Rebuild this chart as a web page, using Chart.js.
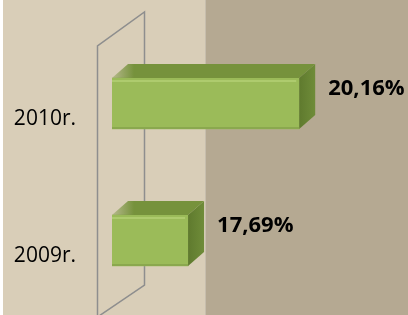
<!DOCTYPE html>
<html>
<head>
<meta charset="utf-8">
<script src="https://cdn.jsdelivr.net/npm/chart.js@4/dist/chart.umd.min.js"></script>
<style>
html,body{margin:0;padding:0;background:#fff;}
#wrap{width:408px;height:315px;}
</style>
</head>
<body>
<div id="wrap"><canvas id="c" width="408" height="315"></canvas></div>
<script>
const categories = ['2010r.', '2009r.'];
const values = [20.16, 17.69];
const axisMin = 16;
const axisMax = 22;
const splitValue = 18;

function fmt(v){ return v.toFixed(2).replace('.', ',') + '%'; }

const DX = 16, DY = -14;

const deco = {
  id: 'deco',
  beforeDraw(chart){
    const ctx = chart.ctx, ca = chart.chartArea;
    const xs = chart.scales.x;
    ctx.save();
    ctx.fillStyle = '#ffffff';
    ctx.fillRect(0,0,chart.width,chart.height);
    ctx.fillStyle = '#D9CEB8';
    ctx.fillRect(3,0,chart.width-3,chart.height);
    const sx = Math.round(xs.getPixelForValue(splitValue)) + 3;
    ctx.fillStyle = '#B5A992';
    ctx.fillRect(sx,0,chart.width-sx,chart.height);
    ctx.fillStyle = 'rgba(255,255,255,0.25)';
    ctx.fillRect(sx,0,1,chart.height);
    // wall
    const lx = ca.left - 14.5, rx = ca.left + 32.5;
    ctx.strokeStyle = '#8E8E8E';
    ctx.lineWidth = 1.5;
    ctx.beginPath();
    ctx.moveTo(lx, chart.height + 2);
    ctx.lineTo(lx, ca.top + 11);
    ctx.lineTo(rx, ca.top - 23);
    ctx.lineTo(rx, ca.bottom - 24);
    ctx.lineTo(lx, ca.bottom + 8);
    ctx.stroke();
    ctx.restore();
  },
  afterDatasetsDraw(chart){
    const ctx = chart.ctx;
    const ca = chart.chartArea;
    const meta = chart.getDatasetMeta(0);
    const ys = chart.scales.y;
    ctx.save();
    meta.data.forEach((bar, i) => {
      const p = bar.getProps(['x','y','base','height'], true);
      const top = p.y - p.height/2, bot = p.y + p.height/2;
      const x0 = Math.max(p.base, ca.left), x1 = p.x;
      // top face
      const gt = ctx.createLinearGradient(x0, 0, x0 + 22, 0);
      gt.addColorStop(0, 'rgba(118,146,60,0.35)');
      gt.addColorStop(1, 'rgba(118,146,60,1)');
      ctx.fillStyle = gt;
      ctx.beginPath();
      ctx.moveTo(x0, top);
      ctx.lineTo(x1, top);
      ctx.lineTo(x1 + DX, top + DY);
      ctx.lineTo(x0 + DX, top + DY);
      ctx.closePath();
      ctx.fill();
      // side face
      const g = ctx.createLinearGradient(x1, 0, x1 + DX, 0);
      g.addColorStop(0, '#5F7A2E');
      g.addColorStop(1, '#6F8C39');
      ctx.fillStyle = g;
      ctx.beginPath();
      ctx.moveTo(x1, top);
      ctx.lineTo(x1 + DX, top + DY);
      ctx.lineTo(x1 + DX, bot + DY);
      ctx.lineTo(x1, bot);
      ctx.closePath();
      ctx.fill();
      // highlight on front
      ctx.fillStyle = '#AECB6E';
      ctx.fillRect(x0, top + 2, x1 - x0 - 3, 2);
      ctx.fillStyle = '#8AA84E';
      ctx.fillRect(x0, bot - 2, x1 - x0, 2);
      // value label
      ctx.fillStyle = '#000';
      ctx.font = 'bold 22px "Open Sans"';
      ctx.textAlign = 'left';
      ctx.textBaseline = 'alphabetic';
      ctx.fillText(fmt(values[i]), x1 + 29, p.y - 9);
      // category label
      ctx.font = '21px "Open Sans"';
      ctx.textAlign = 'right';
      ctx.fillText(categories[i], 76, ys.getPixelForValue(i) + 21);
    });
    ctx.restore();
  }
};

new Chart(document.getElementById('c'), {
  type: 'bar',
  data: {
    labels: categories,
    datasets: [{
      data: values,
      backgroundColor: '#9BBB59',
      borderWidth: 0,
      barThickness: 51
    }]
  },
  options: {
    indexAxis: 'y',
    responsive: false,
    animation: false,
    layout: { padding: { left: 112, right: 26, top: 35, bottom: 6 } },
    plugins: { legend: { display: false }, tooltip: { enabled: false } },
    scales: {
      x: { display: false, min: axisMin, max: axisMax },
      y: { display: false }
    }
  },
  plugins: [deco]
});
</script>
</body>
</html>
